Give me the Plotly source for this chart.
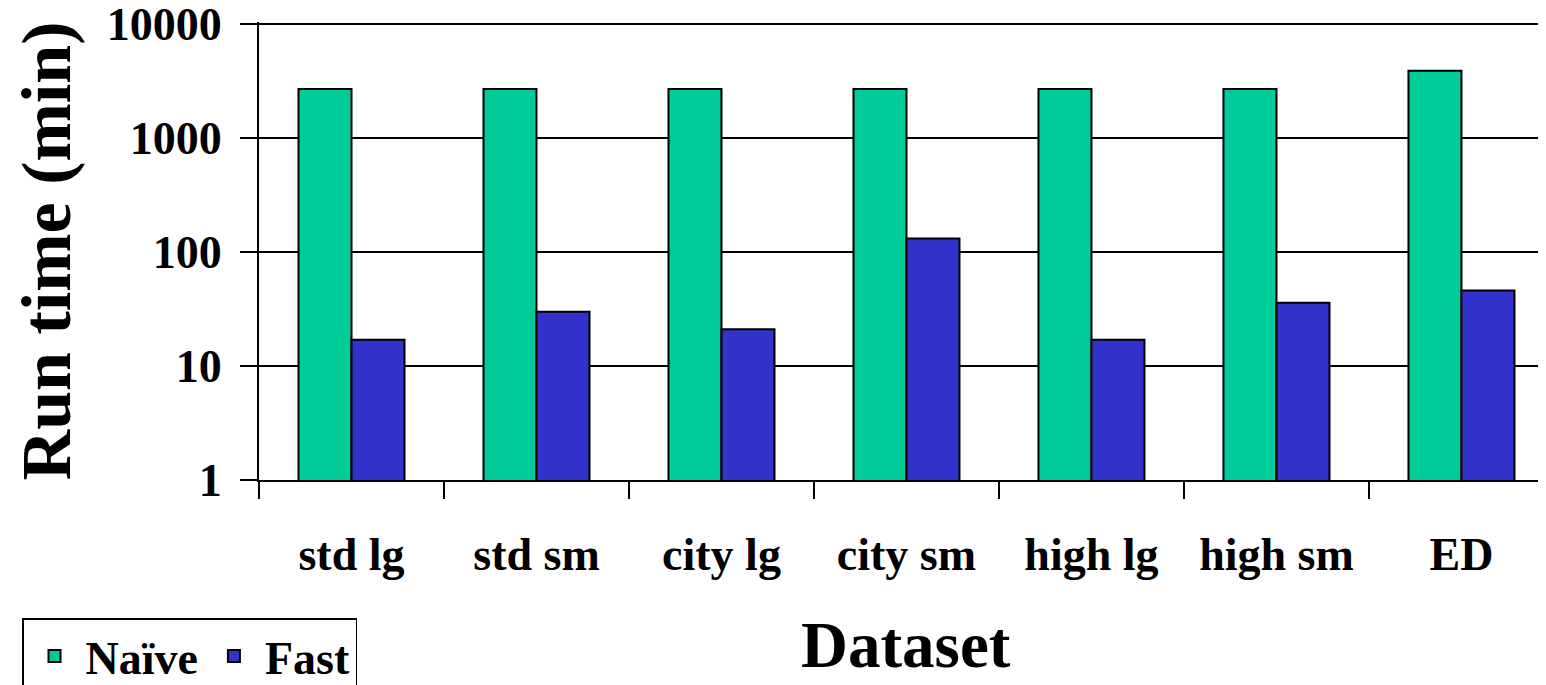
import plotly.graph_objects as go

categories = ["std lg", "std sm", "city lg", "city sm", "high lg", "high sm", "ED"]
naive = [2700, 2700, 2700, 2700, 2700, 2700, 3900]
fast = [17, 30, 21, 132, 17, 36, 46]
y_ticks = [1, 10, 100, 1000, 10000]
x_title = "Dataset"
y_title = "Run time (min)"

FONT = "Liberation Serif, Times New Roman, serif"
W, H = 1538, 677  # page body has an 8px margin

fig = go.Figure()
fig.add_trace(go.Bar(x=categories, y=naive, name="Naïve",
                     marker=dict(color="#00CC99", line=dict(color="black", width=2))))
fig.add_trace(go.Bar(x=categories, y=fast, name="Fast",
                     marker=dict(color="#3333CC", line=dict(color="black", width=2))))

fig.update_layout(
    width=W, height=H,
    margin=dict(l=251, r=0, t=14, b=205, autoexpand=False),
    paper_bgcolor="white", plot_bgcolor="white",
    barmode="group", bargap=0.427, bargroupgap=0,
    font=dict(family=FONT, color="black", size=46, weight="bold"),
    showlegend=True,
    legend=dict(orientation="h", xref="container", yref="container",
                x=14 / W, xanchor="left", y=(H - 610) / H, yanchor="top",
                bordercolor="black", borderwidth=1.5, bgcolor="white",
                font=dict(family=FONT, size=46, color="black", weight="bold"),
                itemwidth=52, tracegroupgap=0),
    annotations=[dict(text=x_title, xref="paper", yref="paper", x=0.5027, y=-0.360,
                      xanchor="center", yanchor="middle", showarrow=False,
                      font=dict(family=FONT, size=65, color="black", weight="bold"))],
)
fig.update_xaxes(
    type="category", range=[-0.5, 6.457],
    tickson="boundaries", ticks="outside", ticklen=17, tickwidth=2, tickcolor="black",
    showline=True, linecolor="black", linewidth=2, showgrid=False,
    tickfont=dict(family=FONT, size=46, weight="bold"),
    ticklabelstandoff=33,
)
fig.update_yaxes(
    type="log", range=[0, 4.02], tickvals=y_ticks, ticktext=[str(v) for v in y_ticks],
    ticklabeloverflow="allow",
    ticks="outside", ticklen=17, tickwidth=2, tickcolor="black",
    showline=True, linecolor="black", linewidth=2,
    showgrid=True, gridcolor="black", gridwidth=2, zeroline=False,
    tickfont=dict(family=FONT, size=46, weight="bold"),
    ticklabelstandoff=9,
    title=dict(text=y_title, font=dict(family=FONT, size=70, weight="bold"), standoff=28),
)

fig.write_html("out.html")
